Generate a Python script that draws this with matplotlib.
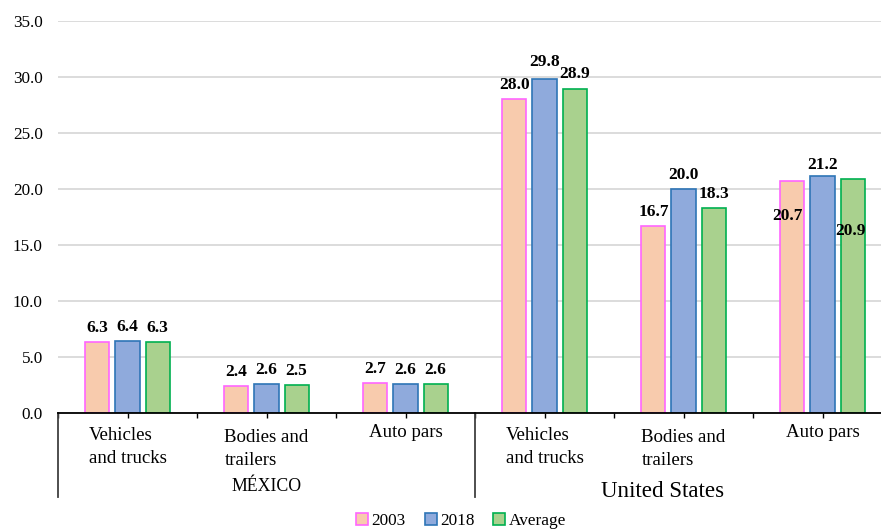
import numpy as np
import matplotlib
matplotlib.use("Agg")
import matplotlib.pyplot as plt
from matplotlib.patches import Patch
import matplotlib.transforms as mtransforms

categories = ["Vehicles\nand trucks", "Bodies and\ntrailers", "Auto pars",
              "Vehicles\nand trucks", "Bodies and\ntrailers", "Auto pars"]
groups = ["MÉXICO", "United States"]
series_names = ["2003", "2018", "Average"]
v2003 = [6.3, 2.4, 2.7, 28.0, 16.7, 20.7]
v2018 = [6.4, 2.6, 2.6, 29.8, 20.0, 21.2]
vavg = [6.3, 2.5, 2.6, 28.9, 18.3, 20.9]
yticks = [0, 5, 10, 15, 20, 25, 30, 35]

plt.rcParams["font.family"] = ["Liberation Serif", "DejaVu Serif"]

fills = ["#F8CBAD", "#8FAADC", "#A9D18E"]
edges = ["#FF66FF", "#2E75B6", "#00B050"]

W, H = 881, 529
fig = plt.figure(figsize=(W / 100, H / 100), dpi=100)
# axes runs past the right edge, like the cropped original
ax = fig.add_axes([58 / W, (H - 413) / H, 834 / W, 392 / H])

x = np.arange(len(categories))
bw = 0.173
step = 0.216
all_vals = [v2003, v2018, vavg]

# label offsets in pixels (dx, dy from bar top to text baseline)
offsets = [
    [(0, 10)] * 5 + [(-5, -39)],
    [(0, 10)] * 3 + [(0, 13), (0, 10), (0, 7)],
    [(0, 10)] * 3 + [(0, 11), (0, 10), (-2, -56)],
]

for i, vals in enumerate(all_vals):
    xs = x + (i - 1) * step
    ax.bar(xs, vals, width=bw, color=fills[i], edgecolor=edges[i],
           linewidth=1.2, zorder=3)
    for xi, v, off in zip(xs, vals, offsets[i]):
        ax.annotate(f"{v:.1f}", (xi, v), xytext=off, textcoords="offset pixels",
                    ha="center", va="baseline", fontsize=12.5,
                    fontweight="bold", zorder=5)

ax.set_xlim(-0.5, 5.5)
ax.set_ylim(0, 35)
ax.set_yticks(yticks)
ax.set_yticklabels([f"{t:.1f}" for t in yticks])
ax.tick_params(axis="y", length=0, pad=11, labelsize=12.3)
ax.grid(axis="y", color="#D9D9D9", linewidth=1.3, zorder=0)
ax.set_axisbelow(True)

for s in ["left", "top", "right"]:
    ax.spines[s].set_visible(False)
ax.spines["bottom"].set_linewidth(1.3)
ax.spines["bottom"].set_zorder(4)

ax.set_xticks(np.arange(-0.5, 5.6, 0.5))
ax.set_xticklabels([])
ax.tick_params(axis="x", length=3.5, width=1.0, direction="out")

trans = mtransforms.blended_transform_factory(ax.transData, ax.transAxes)
label_y = [-0.035, -0.04, -0.028, -0.035, -0.042, -0.028]
for xi, lab, ly in zip(x, categories, label_y):
    ax.text(xi, ly, lab, transform=trans, ha="center", va="top",
            multialignment="left", fontsize=13.6, linespacing=1.45)

for bx in [-0.5, 2.5]:
    ax.plot([bx, bx], [0, -0.214], transform=trans, color="#404040",
            linewidth=1.3, clip_on=False, zorder=4)

ax.text(1.0, -0.165, groups[0], transform=trans, ha="center", va="top",
        fontsize=12.8)
ax.text(3.85, -0.173, groups[1], transform=trans, ha="center", va="top",
        fontsize=16.6)

handles = [Patch(facecolor=fills[i], edgecolor=edges[i], linewidth=1.2,
                 label=series_names[i]) for i in range(3)]
fig.legend(handles=handles, loc="lower center", bbox_to_anchor=(461 / W, -0.03),
           ncol=3, frameon=False, fontsize=12.4, handlelength=0.7,
           handleheight=0.7, handletextpad=0.2, columnspacing=1.1)

fig.savefig("out.png", dpi=100)
